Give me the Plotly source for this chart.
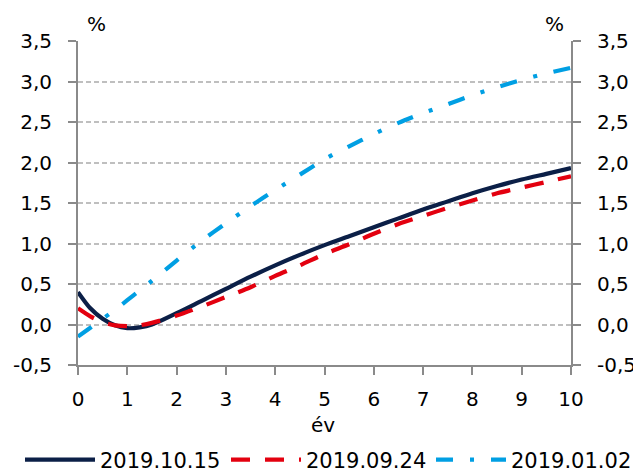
import plotly.graph_objects as go

tenor = [0, 0.25, 0.5, 0.75, 1, 1.25, 1.5, 2, 2.5, 3, 3.5, 4, 4.5, 5, 5.5, 6, 6.5, 7, 7.5, 8, 8.5, 9, 9.5, 10]
y_20191015 = [0.40, 0.20, 0.07, -0.01, -0.045, -0.035, 0.00, 0.14, 0.29, 0.44, 0.59, 0.73, 0.86, 0.98, 1.09, 1.20, 1.31, 1.42, 1.52, 1.62, 1.71, 1.79, 1.86, 1.93]
y_20190924 = [0.20, 0.10, 0.03, -0.01, -0.02, -0.01, 0.02, 0.11, 0.22, 0.34, 0.46, 0.60, 0.73, 0.87, 0.99, 1.12, 1.24, 1.34, 1.44, 1.53, 1.62, 1.69, 1.76, 1.83]
y_20190102 = [-0.15, -0.04, 0.07, 0.18, 0.30, 0.42, 0.54, 0.79, 1.03, 1.25, 1.46, 1.66, 1.85, 2.04, 2.20, 2.35, 2.49, 2.61, 2.72, 2.83, 2.93, 3.02, 3.10, 3.17]
names = ["2019.10.15", "2019.09.24", "2019.01.02"]
x_ticks = list(range(0, 11))
y_ticks = [-0.5, 0, 0.5, 1, 1.5, 2, 2.5, 3, 3.5]
y_ticktext = [f"{v:.1f}".replace(".", ",") for v in y_ticks]

FONT = "DejaVu Sans"
AX = "#8a8a8a"
W, H = 641, 472
OFF = 8  # page body margin

fig = go.Figure()
fig.add_trace(go.Scatter(x=tenor, y=y_20191015, name=names[0], mode="lines", legend="legend",
                         line=dict(color="#0b1f47", width=4.2, shape="spline", smoothing=0.8)))
fig.add_trace(go.Scatter(x=tenor, y=y_20190924, name=names[1], mode="lines", legend="legend2",
                         line=dict(color="#e3000f", width=4.2, shape="spline", smoothing=0.8, dash="19px,15px")))
fig.add_trace(go.Scatter(x=tenor, y=y_20190102, name=names[2], mode="lines", legend="legend3",
                         line=dict(color="#009fe3", width=4.2, shape="spline", smoothing=0.8, dash="17px,17px,4px,17px")))
# secondary (right) axis carries the same scale
fig.add_trace(go.Scatter(x=tenor, y=y_20191015, yaxis="y2", mode="lines", showlegend=False,
                         hoverinfo="skip", line=dict(width=0), opacity=0))


def leg(xpx):
    return dict(orientation="h", xref="container", yref="container",
                x=xpx / W, xanchor="left", y=1 - (460 - OFF) / H, yanchor="middle",
                font=dict(family=FONT, size=21), itemwidth=70, bgcolor="rgba(0,0,0,0)")


yax_common = dict(range=[-0.5, 3.5], tickvals=y_ticks, ticktext=y_ticktext, ticks="outside",
                  ticklen=8, tickwidth=1.5, tickcolor=AX, showline=True, linecolor=AX,
                  linewidth=2, zeroline=False, tickfont=dict(size=20))

fig.update_layout(
    width=W, height=H,
    margin=dict(l=78 - OFF, r=W - 571 + OFF, t=41 - OFF, b=H - 365 + OFF, autoexpand=False),
    paper_bgcolor="white", plot_bgcolor="white",
    font=dict(family=FONT, size=20, color="#000000"),
    showlegend=True,
    legend=leg(12), legend2=leg(218), legend3=leg(423),
    xaxis=dict(range=[0, 10], tickvals=x_ticks, ticks="outside", ticklen=8, tickwidth=1.5,
               tickcolor=AX, showline=True, linecolor=AX, linewidth=2, showgrid=False,
               zeroline=False, ticklabelstandoff=7, tickfont=dict(size=20)),
    yaxis=dict(**yax_common, showgrid=True, gridcolor="#bfbfbf", gridwidth=1.5,
               griddash="5px,3px", ticklabelstandoff=12),
    yaxis2=dict(**yax_common, overlaying="y", side="right", showgrid=False,
                ticklabelstandoff=12),
    annotations=[
        dict(text="%", x=0.038, y=1.052, xref="paper", yref="paper", showarrow=False,
             font=dict(size=20), xanchor="center", yanchor="middle"),
        dict(text="%", x=0.9675, y=1.052, xref="paper", yref="paper", showarrow=False,
             font=dict(size=20), xanchor="center", yanchor="middle"),
        dict(text="év", x=0.497, y=-0.185, xref="paper", yref="paper", showarrow=False,
             font=dict(size=20), xanchor="center", yanchor="middle"),
    ],
)

fig.write_html("out.html")
